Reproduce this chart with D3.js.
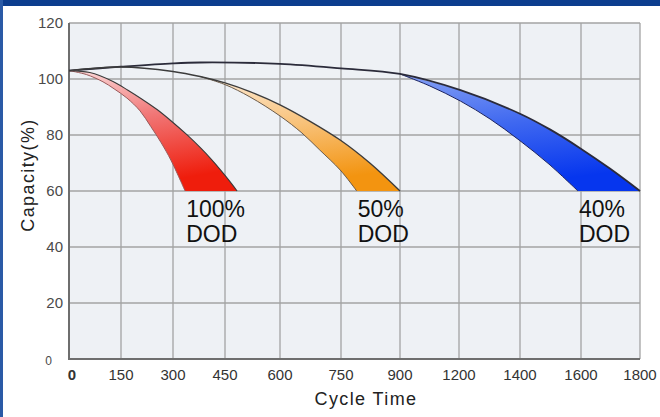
<!DOCTYPE html>
<html>
<head>
<meta charset="utf-8">
<script src="https://cdn.jsdelivr.net/npm/d3@7/dist/d3.min.js"></script>
<style>
  html, body { margin: 0; padding: 0; background: #fff; }
  svg { display: block; font-family: Arial, "Liberation Sans", sans-serif; }
</style>
</head>
<body>
<svg id="chart" width="660" height="417"></svg>
<script>
// ---------- data ----------
const xTicks = [0, 150, 300, 450, 600, 750, 900, 1200, 1400, 1600, 1800];
const yTicks = [0, 20, 40, 60, 80, 100, 120];
const xTitle = "Cycle Time";
const yTitle = "Capacity(%)";

// 100% DOD band (cycles, capacity %)
const dod100Outer = [[0,103],[60,102.3],[127,99.1],[170,96],[213,92.6],[254,89.1],[294,85.1],[340,80.1],[381,75.2],[410,71.4],[438,67.4],[461,63.8],[483,60]];
const dod100Inner = [[0,103],[50,101.6],[98,99],[130,96.5],[167,93.2],[205,88.6],[236,83],[266,77.2],[294,71],[335,60]];
// 50% DOD band
const dod50Outer = [[0,103],[150,104.3],[300,102.7],[378,100.9],[450,98.6],[518,95.5],[600,90.8],[674,84.9],[748,78.2],[824,69.9],[900,60]];
const dod50Inner = [[378,100.9],[450,98],[518,93.6],[600,86.8],[654,80.7],[698,74.6],[748,67.5],[790,60]];
// 40% DOD band
const dod40Outer = [[0,103],[150,104.4],[300,105.6],[378,105.9],[600,105.4],[750,103.8],[900,101.8],[1205,96],[1400,87.6],[1498,82],[1597,75.3],[1698,68],[1800,60]];
const dod40Inner = [[900,101.8],[1052,97.5],[1205,92.1],[1302,85.7],[1397,78.2],[1495,69.6],[1590,60]];

const bandNames = ["100%", "50%", "40%"];
const bandSub = "DOD";

// ---------- layout ----------
const W = 660, H = 417;
const plot = { left: 69, right: 640, top: 23, bottom: 359 };
// relative pixel offsets of the (unevenly spaced) x grid lines
const xTickOffsets = [0, 52, 104, 156, 211, 272, 331, 390, 451, 512, 571];

const svg = d3.select("#chart");

// frame
svg.append("rect").attr("x", 0).attr("y", 0).attr("width", W).attr("height", H).attr("fill", "#fff");
svg.append("rect").attr("x", 0).attr("y", 0).attr("width", W).attr("height", 6).attr("fill", "#0c3d8e");
svg.append("rect").attr("x", 0).attr("y", 0).attr("width", 3).attr("height", H).attr("fill", "#2a5aa6");

const x = d3.scaleLinear()
  .domain(xTicks)
  .range(xTickOffsets.map(o => plot.left + o));
const y = d3.scaleLinear().domain([0, 120]).range([plot.bottom, plot.top]);

// plot background
svg.append("rect")
  .attr("x", plot.left).attr("y", plot.top)
  .attr("width", plot.right - plot.left).attr("height", plot.bottom - plot.top)
  .attr("fill", "#eef1f5");

// grid
const grid = svg.append("g");
grid.selectAll("line.v").data(xTicks.slice(1)).join("line")
  .attr("x1", d => x(d)).attr("x2", d => x(d))
  .attr("y1", plot.top).attr("y2", plot.bottom)
  .attr("stroke", "#a3a3a3").attr("stroke-width", 1.3);
grid.selectAll("line.h").data(yTicks.slice(1)).join("line")
  .attr("x1", plot.left).attr("x2", plot.right)
  .attr("y1", d => y(d)).attr("y2", d => y(d))
  .attr("stroke", "#a3a3a3").attr("stroke-width", 1.3);

// axes lines
svg.append("line").attr("x1", plot.left).attr("x2", plot.left)
  .attr("y1", plot.top).attr("y2", plot.bottom + 1)
  .attr("stroke", "#6e6e6e").attr("stroke-width", 2);
svg.append("line").attr("x1", plot.left - 1).attr("x2", plot.right)
  .attr("y1", plot.bottom).attr("y2", plot.bottom)
  .attr("stroke", "#6e6e6e").attr("stroke-width", 2);

// gradients
const defs = svg.append("defs");
function grad(id, stops) {
  const g = defs.append("linearGradient").attr("id", id)
    .attr("x1", 0).attr("y1", 0).attr("x2", 0.25).attr("y2", 1);
  stops.forEach(s => g.append("stop").attr("offset", s[0]).attr("stop-color", s[1]));
}
grad("gRed", [[0, "#fbdada"], [0.45, "#f17878"], [1, "#ef1d0c"]]);
grad("gOrange", [[0, "#fdebd6"], [0.5, "#f8c27a"], [1, "#f39410"]]);
grad("gBlue", [[0, "#86a1f4"], [0.5, "#3f68f0"], [1, "#0636ee"]]);

const line = d3.line()
  .x(d => x(d[0])).y(d => y(d[1]))
  .curve(d3.curveCatmullRom.alpha(0.5));

function band(outer, inner, fillId, outerStroke, innerStroke, outerW) {
  const startX = inner[0][0];
  const outerSeg = outer.filter(p => p[0] >= startX);
  const innerRev = inner.slice().reverse();
  const dPath = line(outerSeg) + line(innerRev).replace(/^M/, "L") + "Z";
  svg.append("path").attr("d", dPath).attr("fill", `url(#${fillId})`).attr("stroke", "none");
  svg.append("path").attr("d", line(inner)).attr("fill", "none")
    .attr("stroke", innerStroke).attr("stroke-width", 1);
  svg.append("path").attr("d", line(outer)).attr("fill", "none")
    .attr("stroke", outerStroke).attr("stroke-width", outerW);
}

band(dod40Outer, dod40Inner, "gBlue", "#2b2b3a", "#1a2260", 1.8);
band(dod50Outer, dod50Inner, "gOrange", "#3c3c3c", "#6a5a4a", 1.4);
band(dod100Outer, dod100Inner, "gRed", "#3a3a3a", "#9a5a5a", 1.1);

// band labels
const inners = [dod100Inner, dod50Inner, dod40Inner];
const labels = svg.append("g").attr("font-size", 23).attr("fill", "#111");
bandNames.forEach((name, i) => {
  const last = inners[i][inners[i].length - 1];
  const lx = x(last[0]) + 1;
  labels.append("text").attr("x", lx).attr("y", y(60) + 26).text(name);
  labels.append("text").attr("x", lx).attr("y", y(60) + 51).text(bandSub);
});

// y tick labels
svg.append("g").selectAll("text").data(yTicks).join("text")
  .attr("x", d => d === 0 ? 52 : 63)
  .attr("y", d => d === 0 ? y(d) + 2 : y(d))
  .attr("dy", "0.35em")
  .attr("text-anchor", "end")
  .attr("font-size", d => d === 0 ? 12 : 15)
  .attr("fill", "#4a4a4a")
  .text(d => d);

// x tick labels
svg.append("g").selectAll("text").data(xTicks).join("text")
  .attr("x", d => d === 0 ? x(d) + 3 : x(d))
  .attr("y", 380)
  .attr("text-anchor", "middle")
  .attr("font-size", 15)
  .attr("font-weight", d => d === 0 ? "bold" : "normal")
  .attr("fill", "#333")
  .text(d => d);

// axis titles
svg.append("text").attr("x", 366).attr("y", 405)
  .attr("text-anchor", "middle").attr("font-size", 18)
  .attr("letter-spacing", 1.4).attr("fill", "#222").text(xTitle);
svg.append("text")
  .attr("transform", "translate(34,175) rotate(-90)")
  .attr("text-anchor", "middle").attr("font-size", 18)
  .attr("letter-spacing", 1.4).attr("fill", "#222").text(yTitle);
</script>
</body>
</html>
